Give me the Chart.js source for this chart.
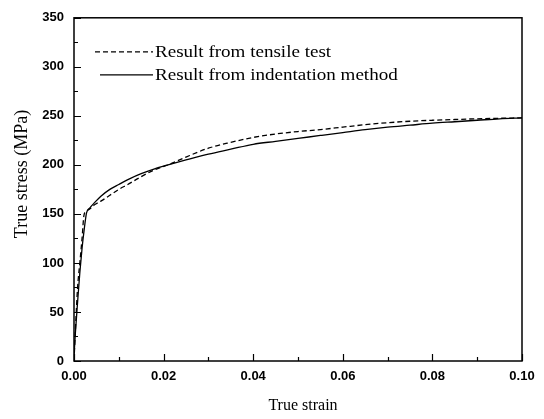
<!DOCTYPE html>
<html>
<head>
<meta charset="utf-8">
<script src="https://cdn.jsdelivr.net/npm/chart.js@4"></script>
<style>
  html, body { margin: 0; padding: 0; background: #fff; }
  #wrap { width: 544px; height: 419px; position: relative; }
</style>
</head>
<body>
<div id="wrap"><canvas id="stress-strain-chart"></canvas></div>
<script>
// tensile test (dashed)
let tensileStrain = [0, 0.0004, 0.0008, 0.0013, 0.0018, 0.0022, 0.0026, 0.0035, 0.0045, 0.006, 0.008, 0.01, 0.012, 0.015, 0.018, 0.021, 0.025, 0.03, 0.035, 0.04, 0.045, 0.05, 0.055, 0.06, 0.065, 0.07, 0.075, 0.08, 0.085, 0.09, 0.095, 0.1];
let tensileStress = [0, 40, 75, 100, 125, 148, 152, 155, 159, 163, 169, 175, 180, 188, 195, 200, 208, 217, 223, 228, 231.5, 234, 236, 238.5, 241, 243, 244.5, 245.5, 246.3, 247, 247.5, 248];

// indentation method (solid)
let indentStrain = [0, 0.0003, 0.0008, 0.0013, 0.0018, 0.0023, 0.0028, 0.0035, 0.0047, 0.006, 0.008, 0.01, 0.0125, 0.015, 0.018, 0.021, 0.025, 0.03, 0.035, 0.04, 0.045, 0.05, 0.055, 0.06, 0.065, 0.07, 0.075, 0.08, 0.085, 0.09, 0.095, 0.1];
let indentStress = [5, 28, 60, 90, 115, 135, 151, 156, 162, 168, 175, 180, 186, 191, 196, 200, 205, 211, 216, 221, 224, 227, 230, 233, 236, 238.5, 240.5, 242.5, 244, 245.5, 247, 248];

let seriesLabels = ["Result from tensile test", "Result from indentation method"];
let xTicks = [0, 0.02, 0.04, 0.06, 0.08, 0.1];
let yTicks = [0, 50, 100, 150, 200, 250, 300, 350];
let xTitle = "True strain";
let yTitle = "True stress (MPa)";

const toPoints = (xs, ys) => xs.map((x, i) => ({x: x, y: ys[i]}));

// box frame + inward ticks
const framePlugin = {
  id: "framePlugin",
  afterDraw: (chart) => {
    const {ctx, chartArea} = chart;
    const xs = chart.scales.x, ys = chart.scales.y;
    ctx.save();
    ctx.strokeStyle = "#000";
    ctx.lineWidth = 1.5;
    ctx.strokeRect(chartArea.left, chartArea.top, chartArea.right - chartArea.left, chartArea.bottom - chartArea.top);
    ctx.lineWidth = 1.2;
    ctx.beginPath();
    for (let v = 0; v <= 350; v += 25) {
      let py = Math.round(ys.getPixelForValue(v)) + 0.5;
      let len = v % 50 === 0 ? 7 : 4;
      ctx.moveTo(chartArea.left, py);
      ctx.lineTo(chartArea.left + len, py);
    }
    for (let i = 0; i <= 10; i++) {
      let px = Math.round(xs.getPixelForValue(i * 0.01)) + 0.5;
      let len = i % 2 === 0 ? 7 : 4;
      ctx.moveTo(px, chartArea.bottom);
      ctx.lineTo(px, chartArea.bottom - len);
    }
    ctx.stroke();

    // axis titles (placed a bit off-centre like the original)
    ctx.fillStyle = "#000";
    ctx.textAlign = "center";
    ctx.textBaseline = "middle";
    ctx.font = "16px 'Liberation Serif'";
    ctx.fillText(xTitle, 303, 406);
    ctx.translate(22, 174);
    ctx.rotate(-Math.PI / 2);
    ctx.font = "18px 'Liberation Serif'";
    ctx.fillText(yTitle, 0, 0);
    ctx.restore();
  }
};

// legend inside the plot, top left
const insideLegend = {
  id: "insideLegend",
  afterDraw: (chart) => {
    const {ctx, chartArea} = chart;
    ctx.save();
    ctx.fillStyle = "#000";
    ctx.textBaseline = "middle";
    chart.data.datasets.forEach((ds, i) => {
      let y = chartArea.top + 34 + i * 23;
      ctx.strokeStyle = "#000";
      ctx.lineWidth = 1.2;
      ctx.setLineDash(ds.borderDash || []);
      ctx.beginPath();
      ctx.moveTo(chartArea.left + (i === 0 ? 21 : 26), y);
      ctx.lineTo(chartArea.left + 79, y);
      ctx.stroke();
      ctx.setLineDash([]);
      ctx.save();
      ctx.translate(chartArea.left + 81, y + 1);
      ctx.scale(1.19, 1);
      ctx.font = "16px 'Liberation Serif'";
      ctx.fillText(ds.label, 0, 0);
      ctx.restore();
    });
    ctx.restore();
  }
};

new Chart(document.getElementById("stress-strain-chart"), {
  type: "line",
  data: {
    datasets: [
      {
        label: seriesLabels[0],
        data: toPoints(tensileStrain, tensileStress),
        borderColor: "#000",
        borderWidth: 1.3,
        borderDash: [5, 3],
        pointRadius: 0,
        cubicInterpolationMode: "monotone"
      },
      {
        label: seriesLabels[1],
        data: toPoints(indentStrain, indentStress),
        borderColor: "#000",
        borderWidth: 1.3,
        pointRadius: 0,
        cubicInterpolationMode: "monotone"
      }
    ]
  },
  plugins: [framePlugin, insideLegend],
  options: {
    responsive: true,
    maintainAspectRatio: false,
    animation: false,
    layout: { padding: { left: 0, top: 11, right: 22, bottom: 0 } },
    scales: {
      x: {
        type: "linear",
        min: 0,
        max: 0.1,
        afterBuildTicks: (scale) => { scale.ticks = xTicks.map(v => ({value: v})); },
        afterFit: (scale) => { scale.height = 58; },
        border: { display: false },
        grid: { display: false, drawTicks: false },
        ticks: {
          padding: 8,
          color: "#000",
          font: { family: "'Liberation Sans'", size: 13, weight: "bold" },
          callback: (v) => Number(v).toFixed(2)
        }
      },
      y: {
        type: "linear",
        min: 0,
        max: 350,
        afterBuildTicks: (scale) => { scale.ticks = yTicks.map(v => ({value: v})); },
        afterFit: (scale) => { scale.width = 74; },
        border: { display: false },
        grid: { display: false, drawTicks: false },
        ticks: {
          padding: 10,
          color: "#000",
          font: { family: "'Liberation Sans'", size: 13, weight: "bold" }
        }
      }
    },
    plugins: {
      legend: { display: false },
      tooltip: { enabled: false }
    }
  }
});
</script>
</body>
</html>
